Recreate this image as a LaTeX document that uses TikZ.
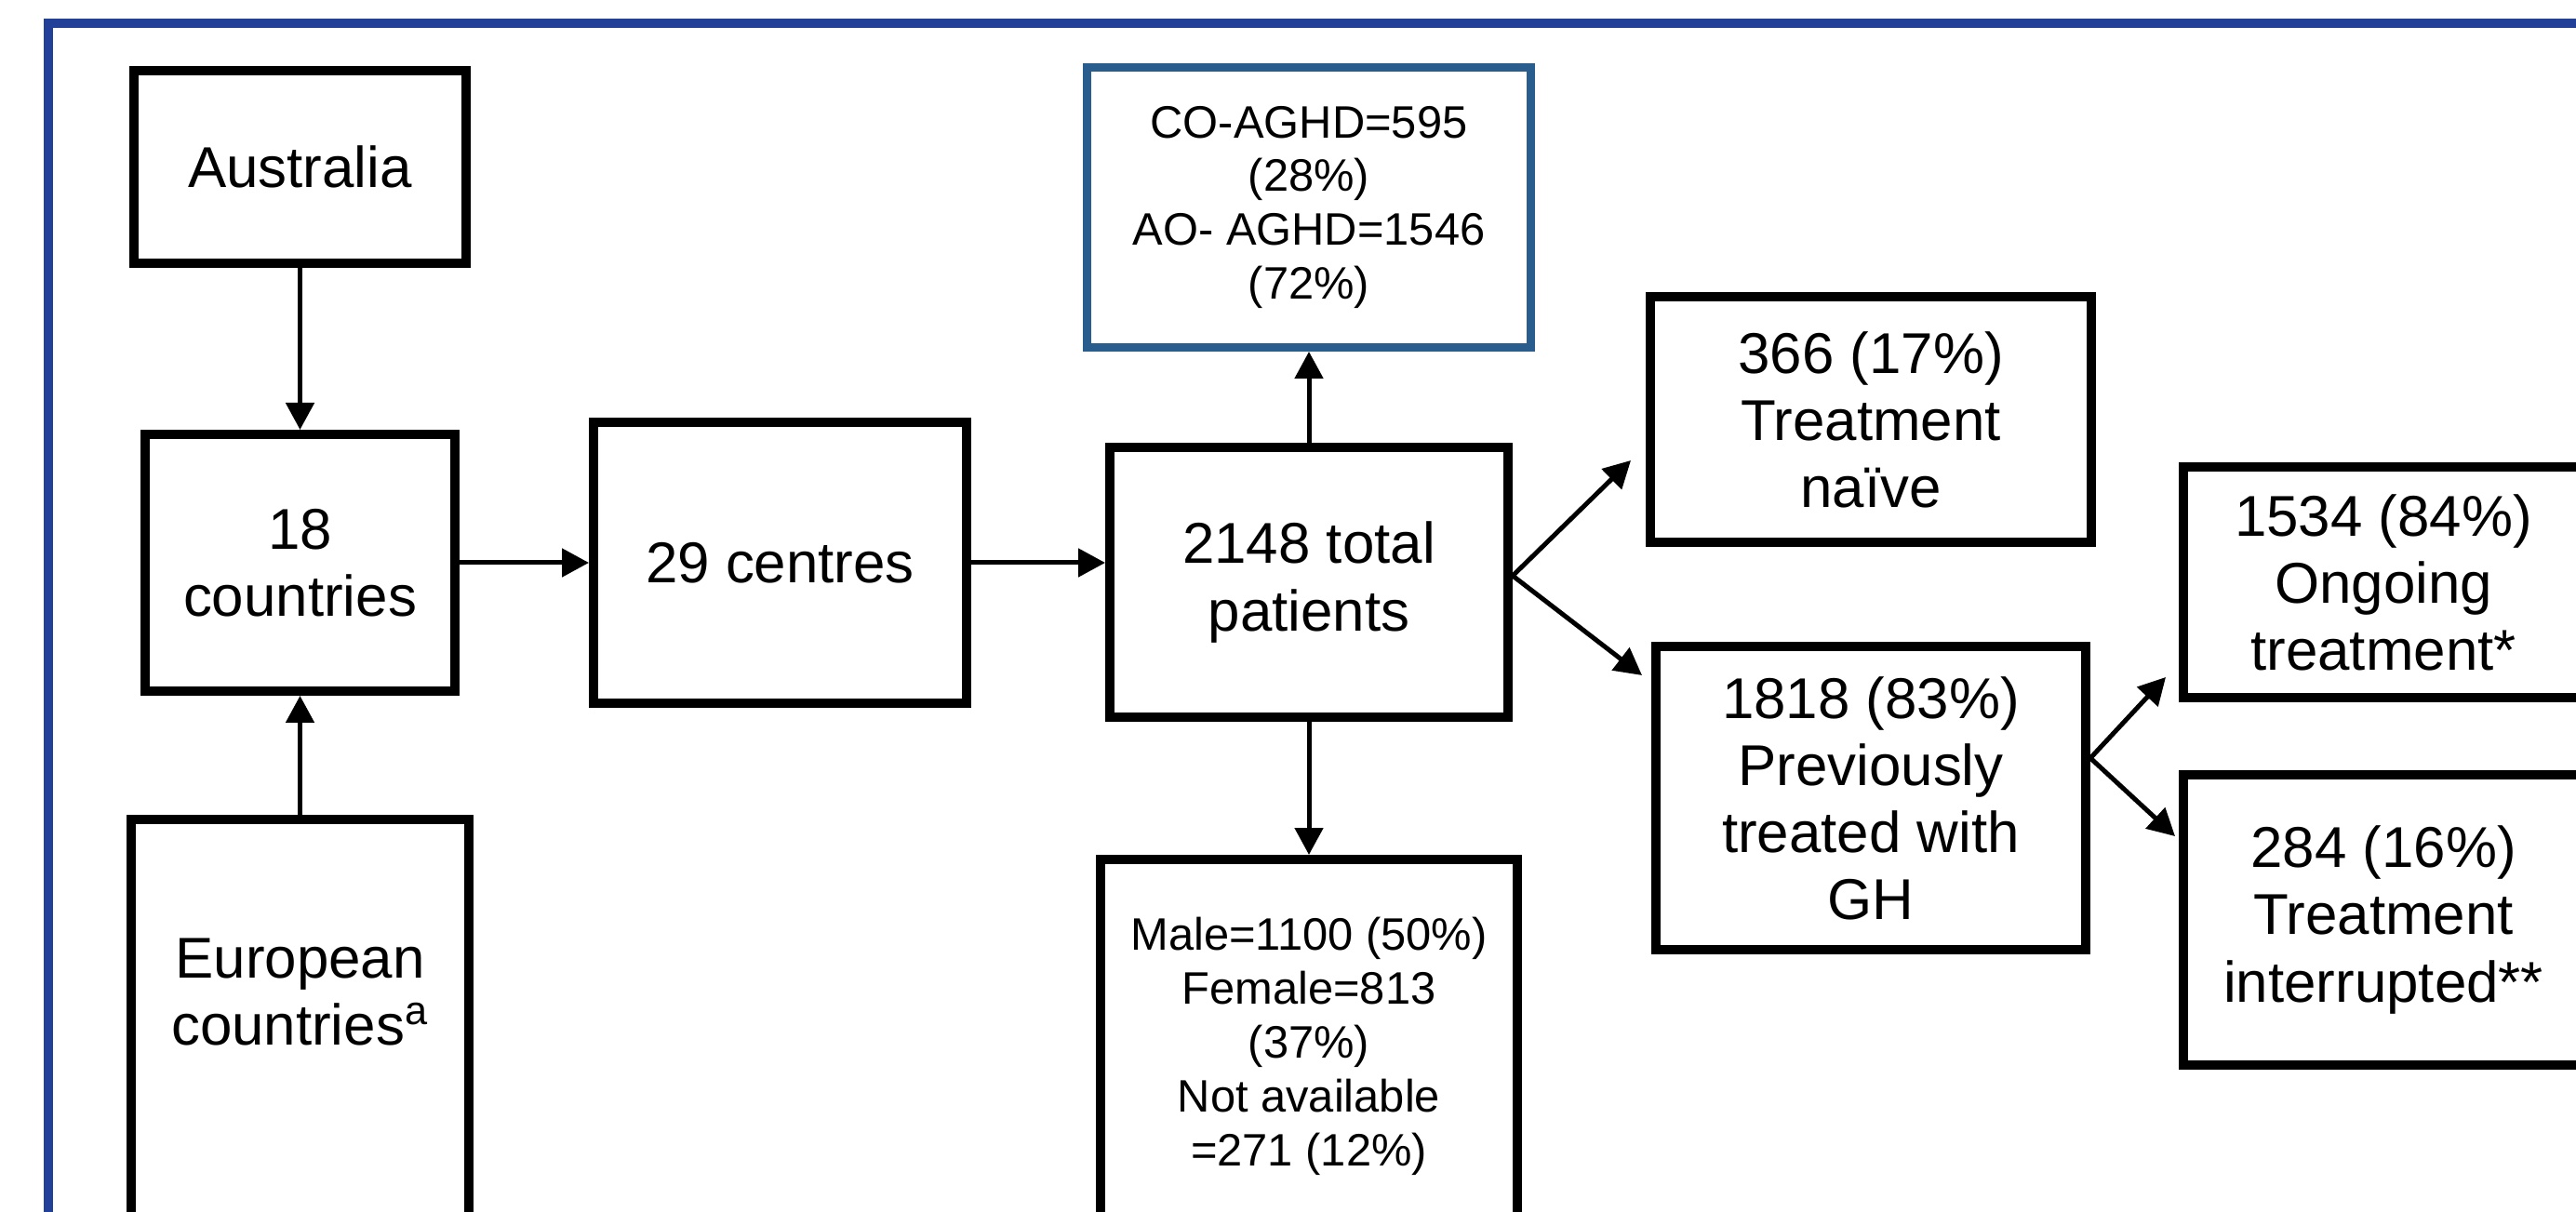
\documentclass[tikz,border=0pt]{standalone}
\usepackage{fontspec}
\setmainfont{Liberation Sans}
\usepackage{tikz}
\usetikzlibrary{arrows.meta,positioning}
\definecolor{frameblue}{RGB}{35,64,152}
\definecolor{onsetblue}{RGB}{40,93,142}
\newcommand{\flowbig}{\fontsize{17.6}{20.5}\selectfont}
\newcommand{\flowsmall}{\fontsize{13.9}{16.5}\selectfont}

\begin{document}
\begin{tikzpicture}[font=\flowbig,
  box/.style={draw, line width=0.1cm, align=center, inner sep=0pt},
  arr/.style={-{Triangle[length=0.29cm,width=0.3cm]}, line width=0.05cm}]
\useasboundingbox (0,0) rectangle (27.69,-13.03);
\clip (0,0) rectangle (27.69,-13.03);
% outer frame, cut off at the right and bottom
\draw[frameblue, line width=0.1cm] (0.52,-0.255) rectangle (28.5,-14);

\node[box, minimum width=3.57cm, minimum height=2.07cm] (aus) at (3.225,-1.795) {Australia};
\node[box, below=1.74cm of aus, minimum width=3.33cm, minimum height=2.76cm] (ctry) {18\\countries};
\node[box, below=1.28cm of ctry, minimum width=3.63cm, minimum height=5.14cm] (eur) {European\\countries\textsuperscript{a}\\\mbox{}\\\mbox{}};

\draw[arr] (aus) -- (ctry);
\draw[arr] (eur) -- (ctry);

\node[box, right=1.39cm of ctry, minimum width=4.01cm, minimum height=3.02cm] (ctr) {29 centres};
\draw[arr] (ctry) -- (ctr);

\node[box, right=1.44cm of ctr, yshift=-0.21cm, minimum width=4.28cm, minimum height=2.90cm] (tot) {2148 total\\patients};
\draw[arr] (ctr.east) -- (ctr.east -| tot.west);

\node[box, draw=onsetblue, line width=0.09cm, above=0.98cm of tot, minimum width=4.77cm, minimum height=3.01cm, font=\flowsmall] (onset) {CO-AGHD=595\\(28\%)\\AO- AGHD=1546\\(72\%)};
\node[box, below=1.43cm of tot, minimum width=4.48cm, minimum height=4.02cm, font=\flowsmall] (sex) {Male=1100 (50\%)\\Female=813\\(37\%)\\Not available\\=271 (12\%)};
\draw[arr] (tot) -- (onset);
\draw[arr] (tot) -- (sex);

% treatment status
\node[box, right=1.43cm of tot, yshift=1.75cm, minimum width=4.74cm, minimum height=2.64cm] (naive) {366 (17\%)\\Treatment\\naïve};
\node[box, below=1.02cm of naive, minimum width=4.62cm, minimum height=3.26cm] (prev) {1818 (83\%)\\Previously\\treated with\\GH};
\draw[arr] ([yshift=0.07cm]tot.east) -- ([xshift=-0.16cm,yshift=-0.44cm]naive.west);
\draw[arr] ([yshift=0.07cm]tot.east) -- ([xshift=-0.1cm,yshift=-0.36cm]prev.north west);

\node[box, right=0.95cm of prev, yshift=2.32cm, minimum width=4.3cm, minimum height=2.48cm] (ongo) {1534 (84\%)\\Ongoing\\treatment*};
\node[box, below=0.73cm of ongo, minimum width=4.3cm, minimum height=3.12cm] (intr) {284 (16\%)\\Treatment\\interrupted**};
\draw[arr] ([yshift=0.43cm]prev.east) -- ([xshift=-0.14cm,yshift=0.27cm]ongo.south west);
\draw[arr] ([yshift=0.43cm]prev.east) -- ([xshift=-0.04cm,yshift=-0.71cm]intr.north west);
\end{tikzpicture}
\end{document}
